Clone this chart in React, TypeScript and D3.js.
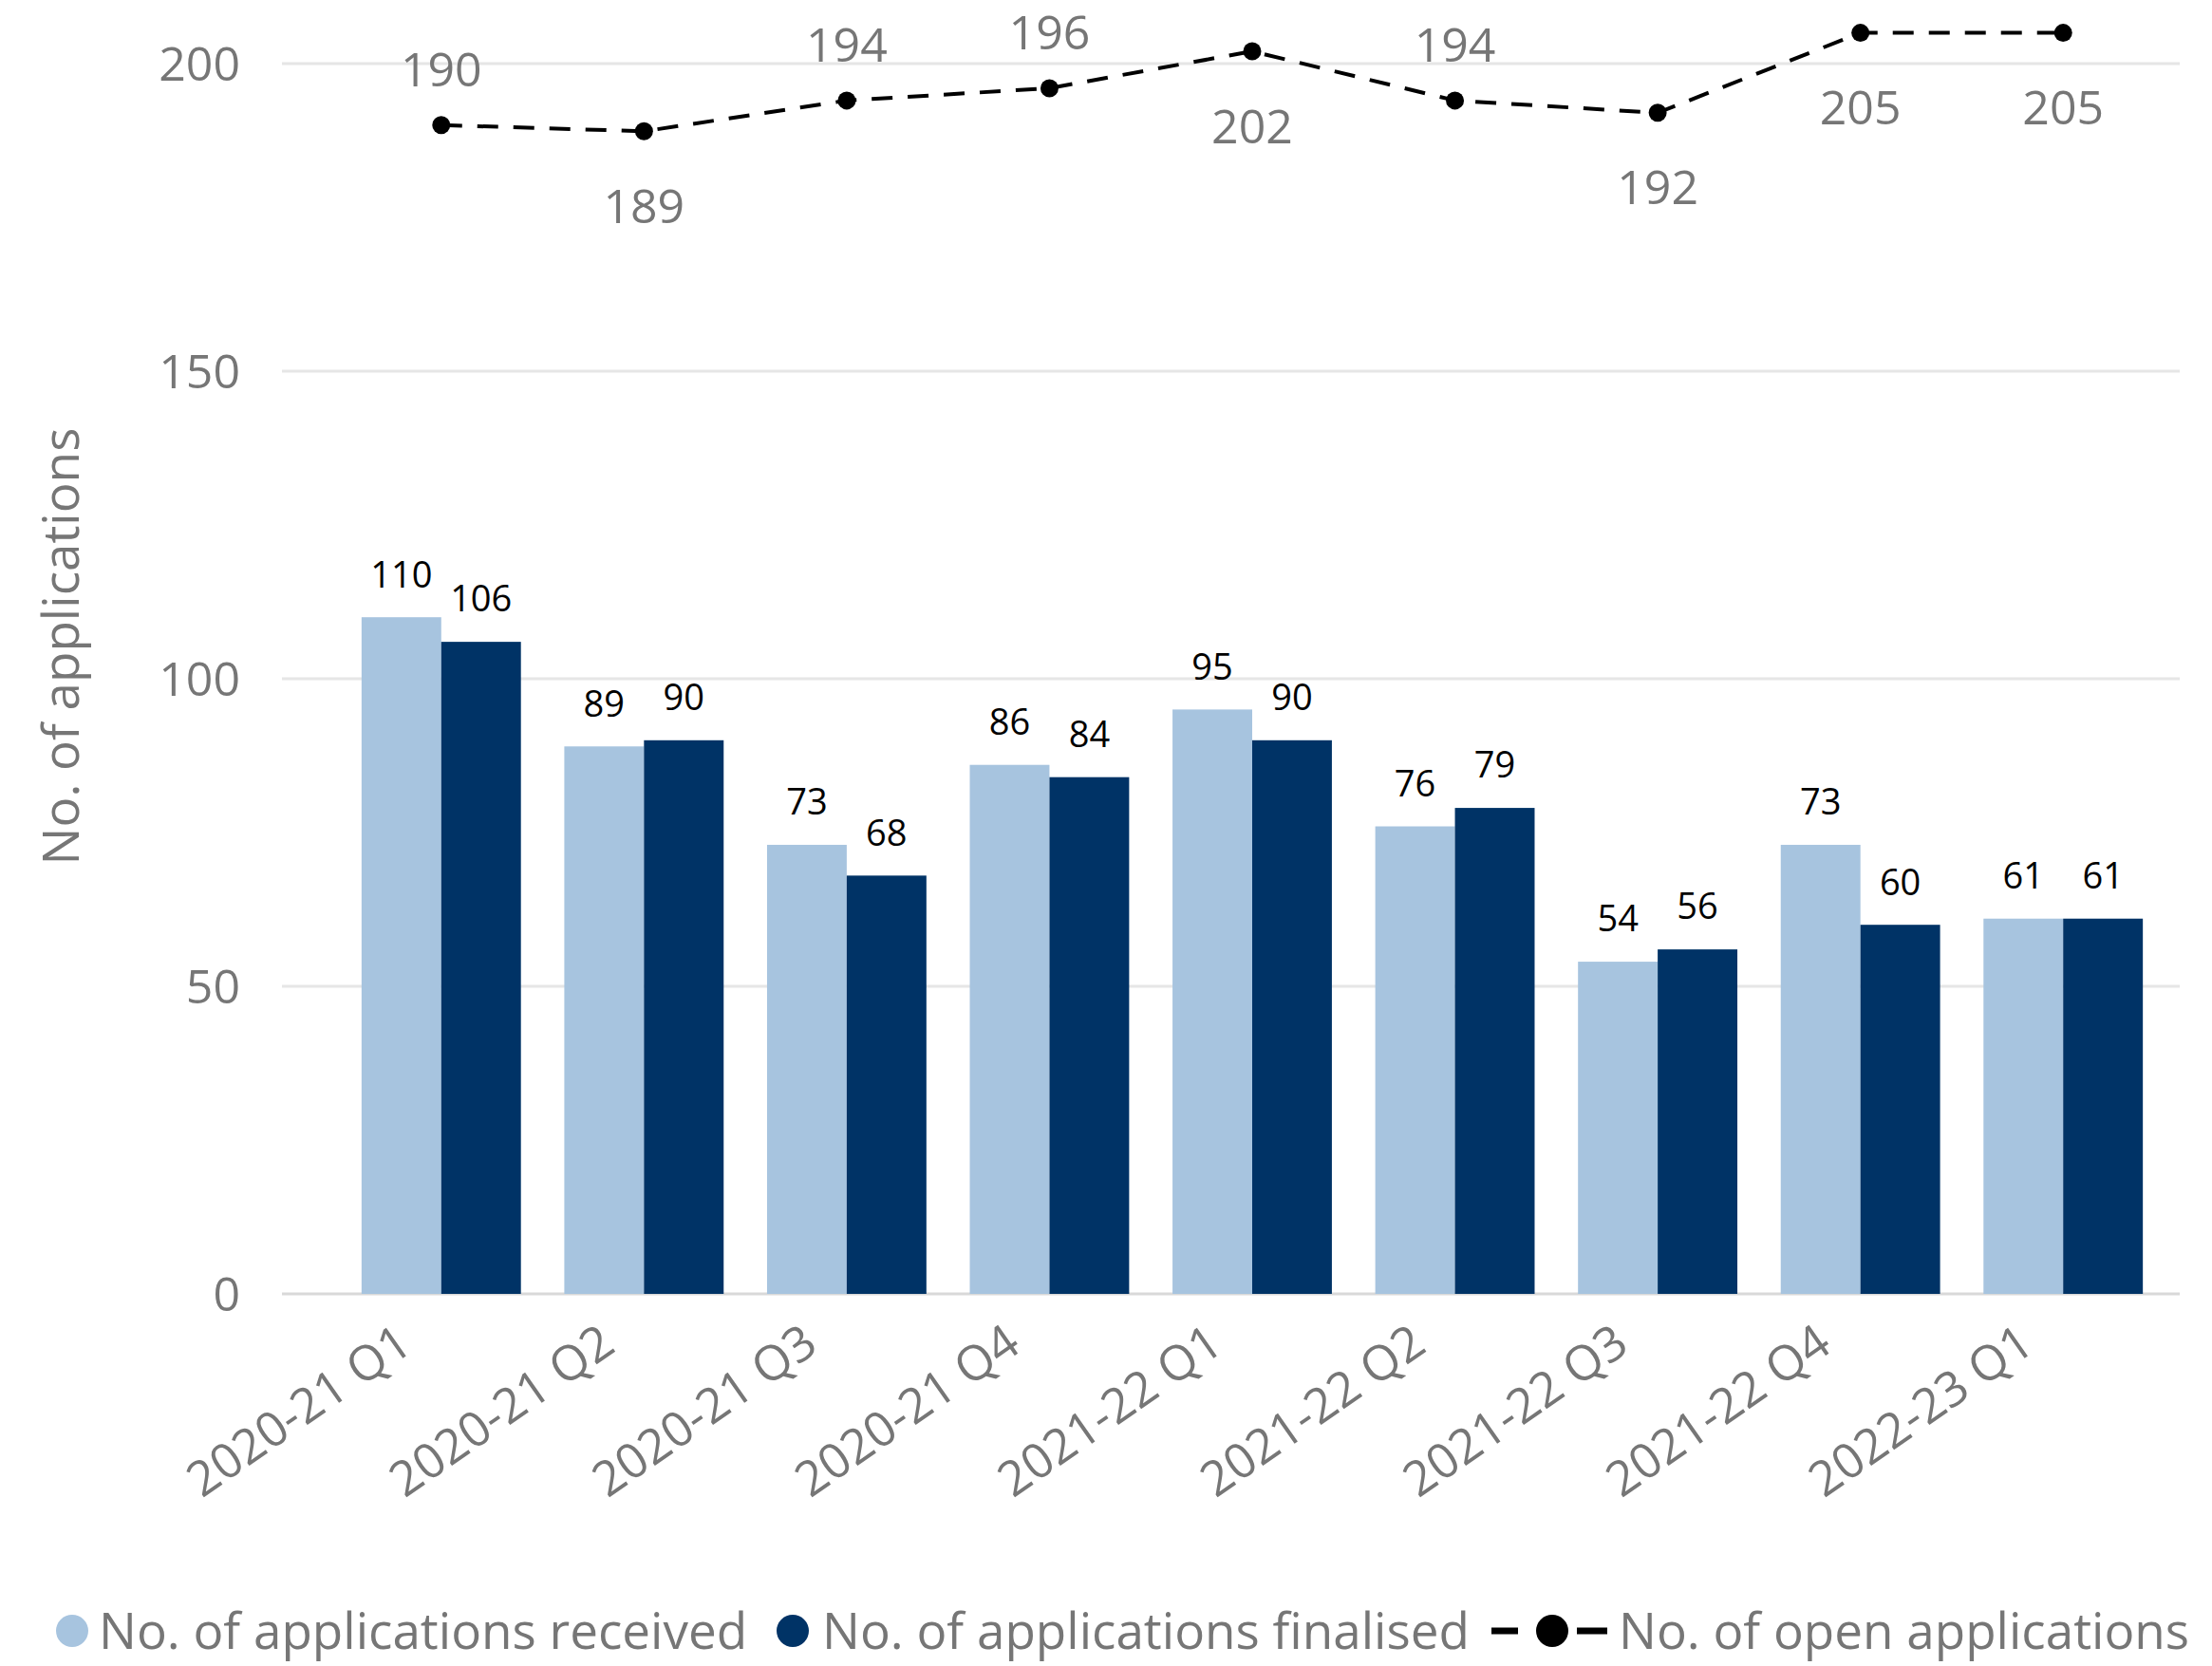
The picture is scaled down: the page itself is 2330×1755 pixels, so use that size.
import React, { useEffect, useRef } from 'react';
import * as d3 from 'd3';

// chart data
const quarters = [
  '2020-21 Q1', '2020-21 Q2', '2020-21 Q3', '2020-21 Q4',
  '2021-22 Q1', '2021-22 Q2', '2021-22 Q3', '2021-22 Q4', '2022-23 Q1',
];
const received = [110, 89, 73, 86, 95, 76, 54, 73, 61];
const finalised = [106, 90, 68, 84, 90, 79, 56, 60, 61];
const openApps = [190, 189, 194, 196, 202, 194, 192, 205, 205];
const openLabelSide = ['above', 'below', 'above', 'above', 'below', 'above', 'below', 'below', 'below'];
const yTicks = [0, 50, 100, 150, 200];

const seriesNames = [
  'No. of applications received',
  'No. of applications finalised',
  'No. of open applications',
];

const LIGHT = '#a7c4df';
const DARK = '#003366';
const GREY = '#767676';
const FONT = '"Open Sans", "Noto Sans", sans-serif';

const App = () => {
  const svgRef = useRef<SVGSVGElement>(null);

  useEffect(() => {
    const width = 2330;
    const height = 1755;

    const svg = d3.select(svgRef.current)
      .attr('width', width)
      .attr('height', height)
      .style('font-family', FONT);
    svg.selectAll('*').remove();

    const x = d3.scaleBand<string>()
      .domain(quarters)
      .range([358, 2280])
      .paddingInner(0.214)
      .paddingOuter(0.107);

    const x1 = d3.scaleBand<string>()
      .domain(['received', 'finalised'])
      .range([0, x.bandwidth()]);

    const y = d3.scaleLinear().domain([0, 200]).range([1363, 67]);

    // gridlines
    svg.append('g')
      .selectAll('line')
      .data(yTicks)
      .enter().append('line')
      .attr('x1', 297)
      .attr('x2', 2296)
      .attr('y1', d => y(d))
      .attr('y2', d => y(d))
      .attr('stroke', d => (d === 0 ? '#d9d9d9' : '#e6e6e6'))
      .attr('stroke-width', 3);

    // y tick labels
    svg.append('g')
      .selectAll('text')
      .data(yTicks)
      .enter().append('text')
      .attr('x', 253)
      .attr('y', d => y(d))
      .attr('dy', '0.35em')
      .attr('text-anchor', 'end')
      .attr('fill', GREY)
      .attr('font-size', 50)
      .text(d => d);

    // y axis title
    svg.append('text')
      .attr('transform', 'translate(64, 681) rotate(-90)')
      .attr('dy', '0.35em')
      .attr('text-anchor', 'middle')
      .attr('fill', GREY)
      .attr('font-size', 53)
      .text('No. of applications');

    // bars
    const groups = svg.append('g')
      .selectAll('g')
      .data(quarters)
      .enter().append('g')
      .attr('transform', d => `translate(${x(d)},0)`);

    const barData = (i: number) => [
      { key: 'received', value: received[i], color: LIGHT },
      { key: 'finalised', value: finalised[i], color: DARK },
    ];

    groups.selectAll('rect')
      .data((d, i) => barData(i))
      .enter().append('rect')
      .attr('x', d => x1(d.key)!)
      .attr('width', x1.bandwidth())
      .attr('y', d => y(d.value))
      .attr('height', d => y(0) - y(d.value))
      .attr('fill', d => d.color);

    groups.selectAll('text')
      .data((d, i) => barData(i))
      .enter().append('text')
      .attr('x', d => x1(d.key)! + x1.bandwidth() / 2)
      .attr('y', d => y(d.value) - 45)
      .attr('dy', '0.35em')
      .attr('text-anchor', 'middle')
      .attr('fill', '#000')
      .attr('font-size', 38)
      .text(d => d.value);

    // x labels (slanted)
    svg.append('g')
      .selectAll('text')
      .data(quarters)
      .enter().append('text')
      .attr('transform', d => `translate(${x(d)! + x.bandwidth() / 2 - 28}, 1422) rotate(-35)`)
      .attr('text-anchor', 'end')
      .attr('fill', GREY)
      .attr('font-size', 51)
      .text(d => d);

    // open applications line
    const cx = (i: number) => x(quarters[i])! + x.bandwidth() / 2;
    const line = d3.line<number>()
      .x((d, i) => cx(i))
      .y(d => y(d));

    svg.append('path')
      .datum(openApps)
      .attr('d', line)
      .attr('fill', 'none')
      .attr('stroke', '#000')
      .attr('stroke-width', 4)
      .attr('stroke-dasharray', '22 16');

    svg.append('g')
      .selectAll('circle')
      .data(openApps)
      .enter().append('circle')
      .attr('cx', (d, i) => cx(i))
      .attr('cy', d => y(d))
      .attr('r', 9.5)
      .attr('fill', '#000');

    svg.append('g')
      .selectAll('text')
      .data(openApps)
      .enter().append('text')
      .attr('x', (d, i) => cx(i))
      .attr('y', (d, i) => y(d) + (openLabelSide[i] === 'above' ? -58 : 79))
      .attr('dy', '0.35em')
      .attr('text-anchor', 'middle')
      .attr('fill', GREY)
      .attr('font-size', 50)
      .text(d => d);

    // legend
    const ly = 1718;
    const legend = svg.append('g').attr('font-size', 53).attr('fill', GREY);

    legend.append('circle').attr('cx', 76).attr('cy', ly).attr('r', 17).attr('fill', LIGHT);
    legend.append('text').attr('x', 104).attr('y', ly).attr('dy', '0.35em').text(seriesNames[0]);

    legend.append('circle').attr('cx', 835).attr('cy', ly).attr('r', 17).attr('fill', DARK);
    legend.append('text').attr('x', 866).attr('y', ly).attr('dy', '0.35em').text(seriesNames[1]);

    legend.append('line').attr('x1', 1571).attr('x2', 1599).attr('y1', ly).attr('y2', ly)
      .attr('stroke', '#000').attr('stroke-width', 7);
    legend.append('line').attr('x1', 1661).attr('x2', 1693).attr('y1', ly).attr('y2', ly)
      .attr('stroke', '#000').attr('stroke-width', 7);
    legend.append('circle').attr('cx', 1635).attr('cy', ly).attr('r', 17).attr('fill', '#000');
    legend.append('text').attr('x', 1705).attr('y', ly).attr('dy', '0.35em').text(seriesNames[2]);
  }, []);

  return (
    <svg ref={svgRef} style={{ position: 'absolute', left: 0, top: 0, background: '#fff' }}></svg>
  );
};

export default App;
